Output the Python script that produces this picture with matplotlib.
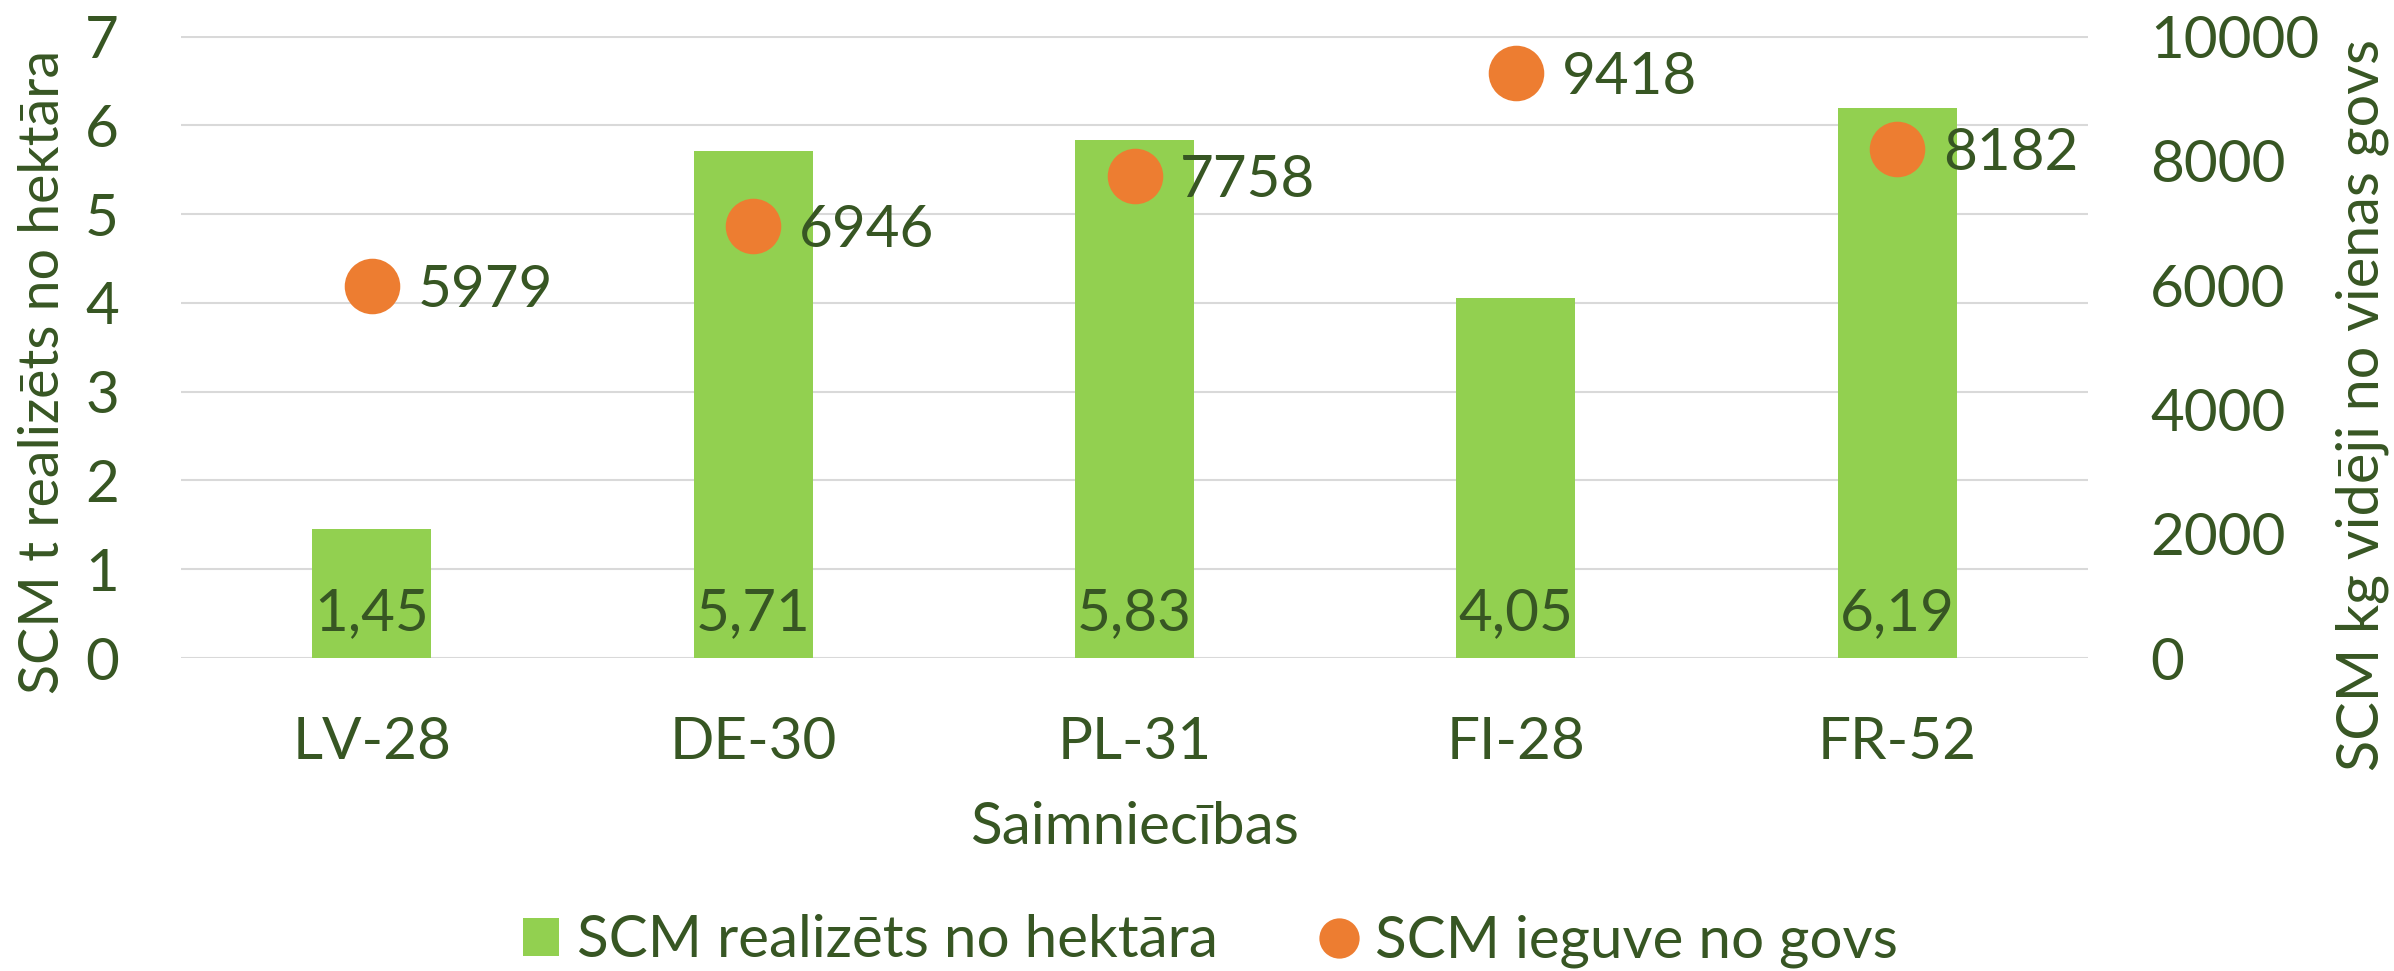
import matplotlib
matplotlib.use("Agg")
import matplotlib.pyplot as plt
from matplotlib.patches import Patch
from matplotlib.lines import Line2D

categories = ["LV-28", "DE-30", "PL-31", "FI-28", "FR-52"]
per_hectare = [1.45, 5.71, 5.83, 4.05, 6.19]
per_cow = [5979, 6946, 7758, 9418, 8182]
left_ticks = [0, 1, 2, 3, 4, 5, 6, 7]
right_ticks = [0, 2000, 4000, 6000, 8000, 10000]

TXT = "#375623"
GREEN = "#92D050"
ORANGE = "#ED7D31"
GRID = "#D9D9D9"
FS = 42

plt.rcParams["font.family"] = ["Lato", "DejaVu Sans"]

W, H = 2394, 971
fig = plt.figure(figsize=(W / 100, H / 100), dpi=100)
L, R, T, B = 181, 2088, 36.5, 658
ax = fig.add_axes([L / W, 1 - B / H, (R - L) / W, (B - T) / H])
ax2 = ax.twinx()

x = list(range(len(categories)))
ax.bar(x, per_hectare, width=0.312, color=GREEN, zorder=2)
ax.set_ylim(0, 7)
ax.set_xlim(-0.5, len(categories) - 0.5)
ax.set_yticks(left_ticks)
ax.set_xticks(x)
ax.set_xticklabels(categories)
ax.grid(axis="y", color=GRID, linewidth=1.5, zorder=0)
ax.set_axisbelow(True)
for s in ax.spines.values():
    s.set_visible(False)
for s in ax2.spines.values():
    s.set_visible(False)
ax.tick_params(axis="y", length=0, pad=44.6, labelsize=FS, labelcolor=TXT)
ax.tick_params(axis="x", length=0, pad=42, labelsize=FS, labelcolor=TXT)

ax2.plot(x, per_cow, "o", ms=40, color=ORANGE, mew=0, zorder=3)
ax2.set_ylim(0, 10000)
ax2.set_yticks(right_ticks)
ax2.tick_params(axis="y", length=0, pad=44.6, labelsize=FS, labelcolor=TXT)

for i, v in enumerate(per_hectare):
    ax.annotate(f"{v:.2f}".replace(".", ","), xy=(i, 0), xytext=(0, 20.2),
                textcoords="offset points", ha="center", va="baseline",
                fontsize=FS, color=TXT, zorder=4)
for i, v in enumerate(per_cow):
    ax2.annotate(str(v), xy=(i, v), xytext=(32.8, -15.1),
                 textcoords="offset points", ha="left", va="baseline",
                 fontsize=FS, color=TXT, zorder=4)

fig.text(1134.5 / W, 1 - 844 / H, "Saimniecības", ha="center", va="baseline",
         fontsize=FS, color=TXT)
fig.text(44 / W, 1 - 372 / H, "SCM t realizēts no hektāra", rotation=90,
         ha="center", va="center", fontsize=40, color=TXT)
fig.text(2362 / W, 1 - 405 / H, "SCM kg vidēji no vienas govs", rotation=90,
         ha="center", va="center", fontsize=41.5, color=TXT)

handles = [Patch(facecolor=GREEN, edgecolor="none"),
           Line2D([], [], marker="o", linestyle="none", ms=29, color=ORANGE, mew=0)]
labels = ["SCM realizēts no hektāra", "SCM ieguve no govs"]
leg = fig.legend(handles, labels, loc="center", bbox_to_anchor=(1210.5 / W, 1 - 941 / H),
                 ncol=2, frameon=False, fontsize=FS, handlelength=0.62, handleheight=0.62,
                 handletextpad=0.31, columnspacing=1.77, borderaxespad=0, borderpad=0)
for t in leg.get_texts():
    t.set_color(TXT)

fig.savefig("out.png", dpi=100)
